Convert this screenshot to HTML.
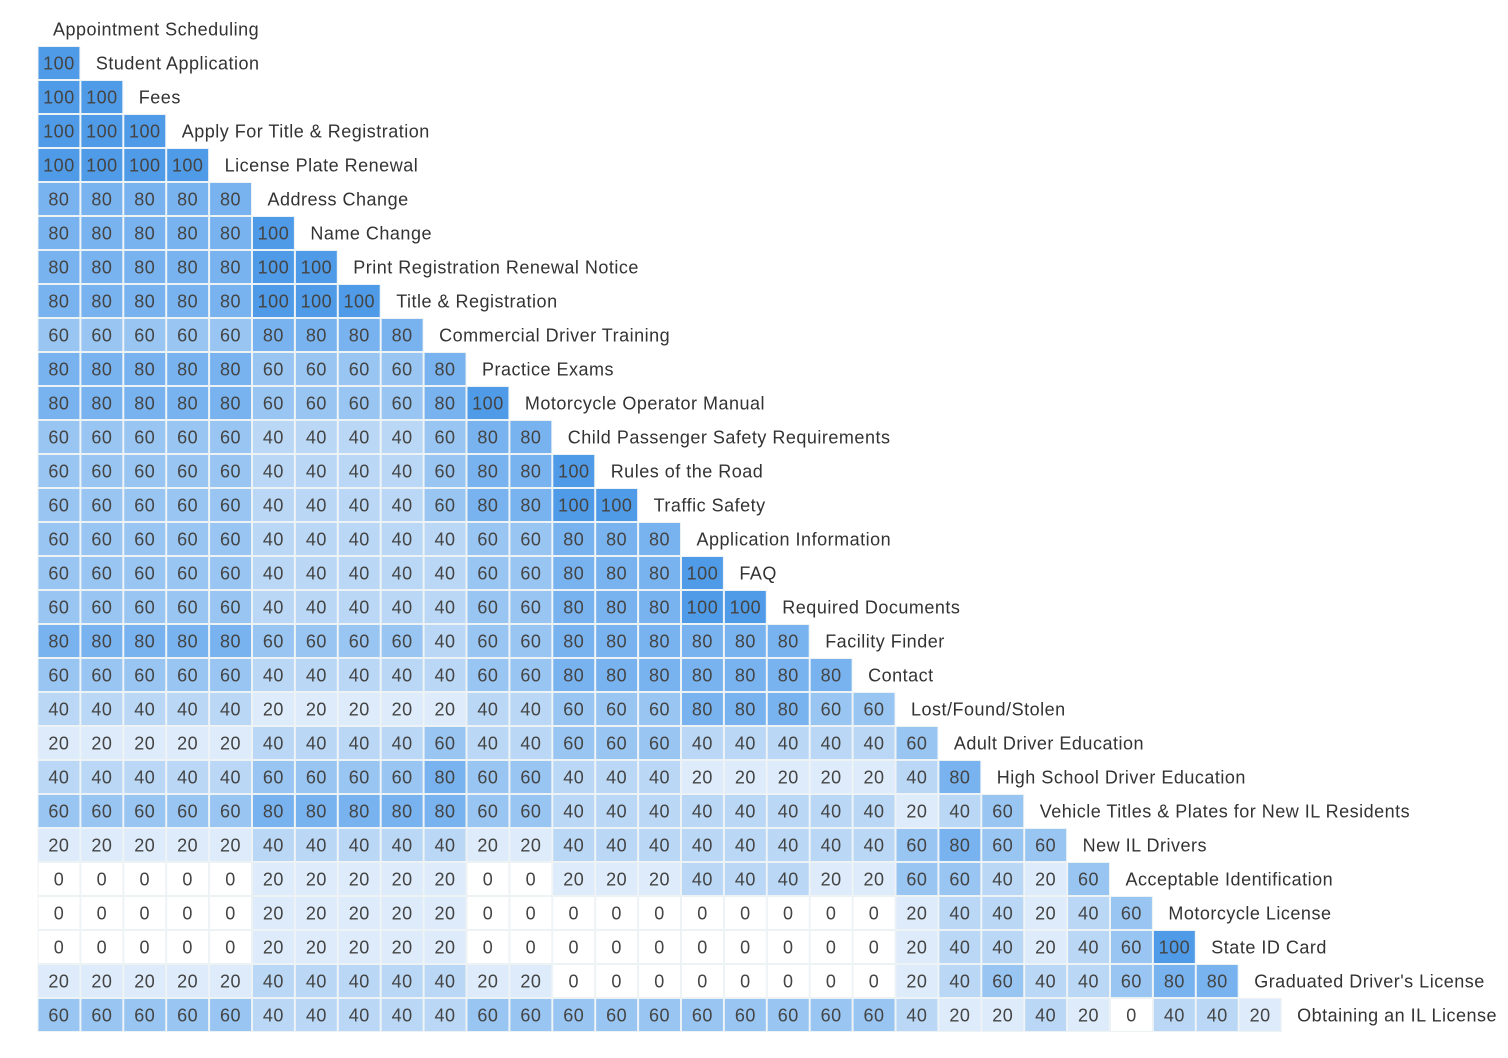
<!DOCTYPE html>
<html><head><meta charset="utf-8"><style>
body{margin:0;background:#fff;}
svg{display:block;font-family:"Liberation Sans",sans-serif;}
</style></head><body>
<svg id="chart" width="1508" height="1058" xmlns="http://www.w3.org/2000/svg"></svg>
<script>
const labels=["Appointment Scheduling","Student Application","Fees","Apply For Title & Registration","License Plate Renewal","Address Change","Name Change","Print Registration Renewal Notice","Title & Registration","Commercial Driver Training","Practice Exams","Motorcycle Operator Manual","Child Passenger Safety Requirements","Rules of the Road","Traffic Safety","Application Information","FAQ","Required Documents","Facility Finder","Contact","Lost/Found/Stolen","Adult Driver Education","High School Driver Education","Vehicle Titles & Plates for New IL Residents","New IL Drivers","Acceptable Identification","Motorcycle License","State ID Card","Graduated Driver's License","Obtaining an IL License"];
const rows=[
[],
[100],
[100,100],
[100,100,100],
[100,100,100,100],
[80,80,80,80,80],
[80,80,80,80,80,100],
[80,80,80,80,80,100,100],
[80,80,80,80,80,100,100,100],
[60,60,60,60,60,80,80,80,80],
[80,80,80,80,80,60,60,60,60,80],
[80,80,80,80,80,60,60,60,60,80,100],
[60,60,60,60,60,40,40,40,40,60,80,80],
[60,60,60,60,60,40,40,40,40,60,80,80,100],
[60,60,60,60,60,40,40,40,40,60,80,80,100,100],
[60,60,60,60,60,40,40,40,40,40,60,60,80,80,80],
[60,60,60,60,60,40,40,40,40,40,60,60,80,80,80,100],
[60,60,60,60,60,40,40,40,40,40,60,60,80,80,80,100,100],
[80,80,80,80,80,60,60,60,60,40,60,60,80,80,80,80,80,80],
[60,60,60,60,60,40,40,40,40,40,60,60,80,80,80,80,80,80,80],
[40,40,40,40,40,20,20,20,20,20,40,40,60,60,60,80,80,80,60,60],
[20,20,20,20,20,40,40,40,40,60,40,40,60,60,60,40,40,40,40,40,60],
[40,40,40,40,40,60,60,60,60,80,60,60,40,40,40,20,20,20,20,20,40,80],
[60,60,60,60,60,80,80,80,80,80,60,60,40,40,40,40,40,40,40,40,20,40,60],
[20,20,20,20,20,40,40,40,40,40,20,20,40,40,40,40,40,40,40,40,60,80,60,60],
[0,0,0,0,0,20,20,20,20,20,0,0,20,20,20,40,40,40,20,20,60,60,40,20,60],
[0,0,0,0,0,20,20,20,20,20,0,0,0,0,0,0,0,0,0,0,20,40,40,20,40,60],
[0,0,0,0,0,20,20,20,20,20,0,0,0,0,0,0,0,0,0,0,20,40,40,20,40,60,100],
[20,20,20,20,20,40,40,40,40,40,20,20,0,0,0,0,0,0,0,0,20,40,60,40,40,60,80,80],
[60,60,60,60,60,40,40,40,40,40,60,60,60,60,60,60,60,60,60,60,40,20,20,40,20,0,40,40,20]
];
const colors={100:"#4f9be8",80:"#78b3ef",60:"#98c5f2",40:"#bad8f6",20:"#ddebfa",0:"#ffffff"};
const NS="http://www.w3.org/2000/svg";
const svg=document.getElementById('chart');
const x0=37.5,pitchX=42.9,y0=12,pitchY=34;
const xPos=c=>x0+c*pitchX;
const yPos=r=>y0+r*pitchY;
function mk(t,a){const e=document.createElementNS(NS,t);for(const k in a)e.setAttribute(k,a[k]);svg.appendChild(e);return e;}
rows.forEach((row,r)=>{
  row.forEach((v,c)=>{
    const bg=mk('rect',{x:xPos(c),y:yPos(r),width:pitchX,height:pitchY,fill:'#edf2f5'});
    
    
    const cell=mk('rect',{x:xPos(c)+1,y:yPos(r)+1,width:pitchX-2,height:pitchY-2,fill:colors[v]});
    
    
    const t=mk('text',{x:xPos(c)+pitchX/2,y:yPos(r)+pitchY/2+6.5,'text-anchor':'middle','font-size':'18','letter-spacing':'0.5',fill:'#444'});
    t.textContent=v;
    
    
  });
  const l=mk('text',{x:xPos(row.length)+15.5,y:yPos(r)+pitchY/2+6.5,'font-size':'18','letter-spacing':'0.5',fill:'#333'});
  l.textContent=labels[r];
  
  
});
</script>
</body></html>
